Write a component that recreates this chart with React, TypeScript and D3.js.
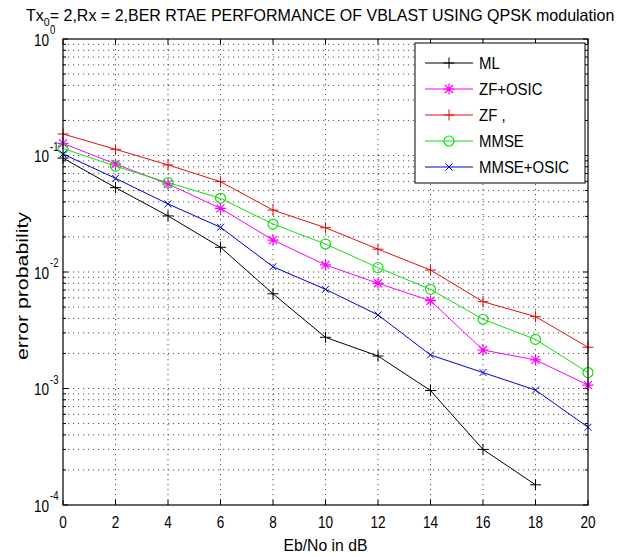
import React, { useLayoutEffect, useRef, useState } from "react";
import * as d3 from "d3";

const snrDb = [0, 2, 4, 6, 8, 10, 12, 14, 16, 18, 20];
const mlBer = [0.095, 0.053, 0.0303, 0.0163, 0.0065, 0.00275, 0.0019, 0.00096, 0.0003, 0.000149];
const zfOsicBer = [0.127, 0.0845, 0.057, 0.0352, 0.0188, 0.0115, 0.008, 0.00567, 0.00214, 0.00176, 0.00107];
const zfBer = [0.153, 0.113, 0.083, 0.0596, 0.034, 0.024, 0.0157, 0.0104, 0.00556, 0.00414, 0.00226];
const mmseBer = [0.115, 0.081, 0.0585, 0.0429, 0.0258, 0.0174, 0.0109, 0.0071, 0.00393, 0.00264, 0.00137];
const mmseOsicBer = [0.103, 0.0637, 0.0384, 0.0242, 0.0111, 0.0071, 0.00428, 0.00194, 0.00137, 0.00097, 0.000465];

const seriesNames = ["ML", "ZF+OSIC", "ZF ,", "MMSE", "MMSE+OSIC"];
const seriesColors = ["#000000", "#ff00ff", "#e01010", "#10e010", "#0000cc"];
const seriesMarkers = ["plus", "star", "plus", "circle", "cross"];
const seriesValues = [mlBer, zfOsicBer, zfBer, mmseBer, mmseOsicBer];

const xTicks = [0, 2, 4, 6, 8, 10, 12, 14, 16, 18, 20];
const yExponents = [0, -1, -2, -3, -4];

const W = 625, H = 557;
const L = 63, R = 588, T = 39, B = 505;
const FONT = "'Liberation Sans', Arial, sans-serif";
const TITLE_W = 588;

function Marker({ type, x, y, color }: { type: string; x: number; y: number; color: string }) {
  const s = 5.5;
  if (type === "plus")
    return <path d={`M${x - s},${y}H${x + s}M${x},${y - s}V${y + s}`} stroke={color} strokeWidth={1} fill="none" />;
  if (type === "cross") {
    const c = 3.5;
    return <path d={`M${x - c},${y - c}L${x + c},${y + c}M${x - c},${y + c}L${x + c},${y - c}`} stroke={color} strokeWidth={1} fill="none" />;
  }
  if (type === "star") {
    const c = 4;
    return (
      <path
        d={`M${x - s},${y}H${x + s}M${x},${y - s}V${y + s}M${x - c},${y - c}L${x + c},${y + c}M${x - c},${y + c}L${x + c},${y - c}`}
        stroke={color}
        strokeWidth={1.2}
        fill="none"
      />
    );
  }
  return <circle cx={x} cy={y} r={5} stroke={color} strokeWidth={1.2} fill="none" />;
}

export default function App() {
  const titleRef = useRef<SVGTextElement>(null);
  const [titleScale, setTitleScale] = useState(0.92);
  useLayoutEffect(() => {
    if (titleRef.current) {
      const w = titleRef.current.getComputedTextLength();
      if (w > 0) setTitleScale(TITLE_W / w);
    }
  }, []);

  const x = d3.scaleLinear().domain([0, 20]).range([L, R]);
  const y = d3.scaleLog().domain([1e-4, 1]).range([B, T]);
  const line = d3
    .line<number>()
    .x((_, i) => x(snrDb[i]))
    .y((d) => y(d));

  const minorVals: number[] = [];
  for (let e = -4; e < 0; e++) for (let m = 2; m <= 9; m++) minorVals.push(m * Math.pow(10, e));

  const dash = "1.2,3.8";

  return (
    <svg width={W} height={H} style={{ position: "absolute", left: 0, top: 0, background: "#fff" }} fontFamily={FONT}>
      <rect x={0} y={0} width={W} height={H} fill="#fff" />
      {/* grid */}
      <g stroke="#000" strokeWidth={0.8} strokeDasharray={dash} opacity={0.85}>
        {xTicks.slice(1, -1).map((t) => (
          <line key={"gx" + t} x1={x(t)} x2={x(t)} y1={T} y2={B} />
        ))}
        {minorVals.concat([1e-3, 1e-2, 1e-1]).map((v) => (
          <line key={"gy" + v} x1={L} x2={R} y1={y(v)} y2={y(v)} />
        ))}
      </g>
      {/* ticks */}
      <g stroke="#000" strokeWidth={1}>
        {xTicks.map((t) => (
          <g key={"tx" + t}>
            <line x1={x(t)} x2={x(t)} y1={B} y2={B - 5} />
            <line x1={x(t)} x2={x(t)} y1={T} y2={T + 5} />
          </g>
        ))}
        {yExponents.map((e) => (
          <g key={"ty" + e}>
            <line x1={L} x2={L + 5} y1={y(Math.pow(10, e))} y2={y(Math.pow(10, e))} />
            <line x1={R} x2={R - 5} y1={y(Math.pow(10, e))} y2={y(Math.pow(10, e))} />
          </g>
        ))}
        {minorVals.map((v) => (
          <g key={"tm" + v}>
            <line x1={L} x2={L + 3} y1={y(v)} y2={y(v)} />
            <line x1={R} x2={R - 3} y1={y(v)} y2={y(v)} />
          </g>
        ))}
      </g>
      {/* series */}
      {seriesValues.map((vals, si) => (
        <g key={"s" + si}>
          <path d={line(vals) || ""} stroke={seriesColors[si]} strokeWidth={1} fill="none" />
          {vals.map((v, i) => (
            <Marker key={i} type={seriesMarkers[si]} x={x(snrDb[i])} y={y(v)} color={seriesColors[si]} />
          ))}
        </g>
      ))}
      {/* frame */}
      <rect x={L} y={T} width={R - L} height={B - T} fill="none" stroke="#000" strokeWidth={1.2} />
      {/* x tick labels */}
      {xTicks.map((t) => (
        <text key={"xl" + t} transform={`translate(${x(t)},${528}) scale(0.8,1)`} textAnchor="middle" fontSize={17} fill="#000">
          {t}
        </text>
      ))}
      {/* y tick labels */}
      {yExponents.map((e) => (
        <g key={"yl" + e}>
          <text transform={`translate(49,${y(Math.pow(10, e)) + 6.5}) scale(0.8,1)`} textAnchor="end" fontSize={17} fill="#000">
            10
          </text>
          <text transform={`translate(50,${y(Math.pow(10, e)) - 5}) scale(0.8,1)`} textAnchor="start" fontSize={12} fill="#000">
            {e === 0 ? "0" : "-" + Math.abs(e)}
          </text>
        </g>
      ))}
      {/* axis labels */}
      <text x={(L + R) / 2} y={551} textAnchor="middle" fontSize={16} textLength={84} lengthAdjust="spacingAndGlyphs" fill="#000">
        Eb/No in dB
      </text>
      <text
        transform={`translate(28,${(T + B) / 2 + 14}) rotate(-90)`}
        textAnchor="middle"
        fontSize={17}
        textLength={148}
        lengthAdjust="spacingAndGlyphs"
        fill="#000"
      >
        error probability
      </text>
      {/* title */}
      <text ref={titleRef} transform={`translate(26,21) scale(${titleScale},1)`} fontSize={16.5} fill="#000">
        Tx<tspan dy={5} fontSize={11}>0</tspan>
        <tspan dy={-5}>= 2,Rx = 2,BER RTAE PERFORMANCE OF VBLAST USING QPSK modulation</tspan>
      </text>
      {/* legend */}
      <g>
        <rect x={415} y={43} width={170} height={140} fill="#fff" stroke="#000" strokeWidth={1} />
        {seriesNames.map((n, i) => {
          const ly = 63 + i * 26;
          return (
            <g key={"lg" + i}>
              <line x1={425} x2={473} y1={ly} y2={ly} stroke={seriesColors[i]} strokeWidth={1} />
              <Marker type={seriesMarkers[i]} x={449} y={ly} color={seriesColors[i]} />
              <text transform={`translate(479,${ly + 6}) scale(0.88,1)`} fontSize={17} fill="#000">
                {n}
              </text>
            </g>
          );
        })}
      </g>
    </svg>
  );
}
